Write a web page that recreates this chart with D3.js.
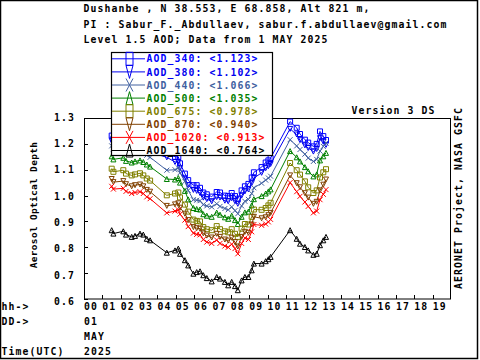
<!DOCTYPE html>
<html><head><meta charset="utf-8">
<script src="https://cdn.jsdelivr.net/npm/d3@7"></script>
<style>
body{margin:0;background:#fff}
svg{display:block}
text{font-family:"DejaVu Sans Mono",monospace;font-weight:bold;}
</style>
</head><body><svg id="c" width="480" height="360"></svg>
<script>
// ---- data ----
const hours = [1.51,1.60,2.14,2.29,2.60,2.78,3.05,3.23,3.42,3.60,
  4.51,4.96,5.14,5.23,5.50,5.68,5.96,6.14,6.32,6.50,
  6.69,6.96,7.23,7.41,7.68,7.86,8.05,8.23,8.38,8.59,
  8.77,8.96,9.14,9.26,9.68,9.90,10.05,10.17,11.23,11.59,
  11.77,12.04,12.22,12.50,12.68,12.86,13.04,13.19];
const aod340 = [1.232,1.220,1.226,1.214,1.206,1.210,1.214,1.206,1.196,1.188,
  1.168,1.150,1.150,1.125,1.085,1.060,1.040,1.040,1.030,1.012,
  1.005,0.996,1.014,1.012,1.000,0.998,1.010,0.998,0.988,1.020,
  1.036,1.045,1.070,1.090,1.110,1.128,1.136,1.145,1.286,1.262,
  1.238,1.216,1.205,1.190,1.200,1.248,1.230,1.215];
const aod380 = [1.212,1.200,1.205,1.194,1.186,1.190,1.194,1.186,1.176,1.168,
  1.148,1.130,1.130,1.106,1.066,1.040,1.022,1.018,1.010,0.992,
  0.986,0.978,0.994,0.992,0.980,0.978,0.990,0.978,0.968,1.000,
  1.016,1.024,1.048,1.068,1.088,1.106,1.114,1.122,1.258,1.236,
  1.214,1.194,1.184,1.170,1.180,1.222,1.208,1.196];
const aod440 = [1.192,1.180,1.186,1.174,1.166,1.170,1.174,1.166,1.156,1.148,
  1.098,1.100,1.107,1.088,1.055,1.020,0.984,0.982,0.980,0.965,
  0.960,0.956,0.968,0.958,0.950,0.945,0.956,0.942,0.930,0.960,
  0.978,0.985,1.008,1.030,1.048,1.060,1.068,1.075,1.216,1.192,
  1.178,1.160,1.145,1.132,1.140,1.172,1.190,1.203];
const aod500 = [1.152,1.140,1.146,1.134,1.128,1.132,1.136,1.130,1.120,1.112,
  1.064,1.062,1.068,1.050,1.018,0.985,0.952,0.948,0.946,0.928,
  0.922,0.918,0.934,0.926,0.916,0.910,0.922,0.905,0.890,0.918,
  0.935,0.938,0.962,0.986,0.998,1.008,1.016,1.024,1.172,1.148,
  1.132,1.110,1.094,1.074,1.082,1.136,1.152,1.165];
const aod675 = [1.104,1.092,1.098,1.085,1.078,1.082,1.086,1.078,1.066,1.058,
  1.001,1.008,1.012,0.993,0.965,0.938,0.907,0.902,0.900,0.878,
  0.870,0.866,0.882,0.870,0.862,0.858,0.870,0.852,0.840,0.872,
  0.890,0.888,0.918,0.946,0.945,0.952,0.962,0.972,1.126,1.098,
  1.081,1.055,1.032,1.010,1.020,1.070,1.090,1.102];
const aod870 = [1.064,1.052,1.056,1.044,1.036,1.040,1.043,1.036,1.022,1.015,
  0.960,0.966,0.970,0.953,0.930,0.905,0.878,0.874,0.872,0.854,
  0.845,0.838,0.852,0.840,0.830,0.826,0.837,0.820,0.803,0.840,
  0.860,0.856,0.888,0.918,0.912,0.916,0.924,0.933,1.078,1.048,
  1.032,1.009,0.992,0.968,0.976,1.020,1.042,1.062];
const aod1020 = [1.036,1.025,1.028,1.016,1.008,1.012,1.015,1.008,0.995,0.988,
  0.933,0.940,0.945,0.928,0.905,0.880,0.855,0.850,0.848,0.830,
  0.820,0.815,0.828,0.815,0.805,0.800,0.812,0.795,0.775,0.815,
  0.836,0.830,0.860,0.888,0.885,0.890,0.898,0.908,1.050,1.015,
  0.997,0.975,0.958,0.933,0.940,0.984,1.005,1.023];
const aod1640 = [0.866,0.853,0.862,0.849,0.840,0.844,0.853,0.849,0.833,0.827,
  0.779,0.788,0.795,0.775,0.750,0.730,0.698,0.704,0.707,0.692,
  0.681,0.668,0.685,0.679,0.666,0.653,0.666,0.650,0.634,0.672,
  0.685,0.685,0.711,0.737,0.737,0.746,0.754,0.763,0.866,0.833,
  0.814,0.801,0.788,0.771,0.775,0.808,0.827,0.840];
const seriesNames = ["AOD_340","AOD_380","AOD_440","AOD_500","AOD_675","AOD_870","AOD_1020","AOD_1640"];
const seriesMeans = ["1.123","1.102","1.066","1.035","0.978","0.940","0.913","0.764"];
const yTicks = [1.3,1.2,1.1,1.0,0.9,0.8,0.7,0.6];
const yTickLabels = ["1.3","1.2","1.1","1.0","0.9","0.8","0.7","0.6"];
const hourLabels = ["00","01","02","03","04","05","06","07","08","09","10","11","12","13","14","15","16","17","18","19"];
const headerLines = ["Dushanbe , N 38.553, E  68.858, Alt 821 m,",
  "PI : Sabur_F._Abdullaev, sabur.f.abdullaev@gmail.com",
  "Level 1.5 AOD; Data from 1 MAY 2025"];

// ---- styles ----
const seriesValues = [aod340,aod380,aod440,aod500,aod675,aod870,aod1020,aod1640];
const colors = ["#0000FF","#0000EE","#4060A0","#008000","#808000","#804000","#FF0000","#000000"];
const shapes = ["square","down","x","up","square","down","x","up"];

const svg = d3.select("#c");
const FS = "9.8px", LS = 1.1;
const txt = (x,y,s,opt={}) => {
  const t = svg.append("text").attr("x",x).attr("y",y).text(s)
    .attr("font-size",opt.fs||FS).attr("letter-spacing",opt.ls!==undefined?opt.ls:LS)
    .attr("fill",opt.fill||"#000");
  if(opt.anchor) t.attr("text-anchor",opt.anchor);
  if(opt.tr) t.attr("transform",opt.tr);
  return t;
};

// outer border
svg.append("rect").attr("x",0.5).attr("y",0.5).attr("width",477).attr("height",358)
  .attr("fill","none").attr("stroke","#000").attr("stroke-width",1.5);

// header
headerLines.forEach((s,i)=>txt(83.5,[12,27.5,43][i],s));
txt(351.5,113.5,"Version 3 DS");

const x = d3.scaleLinear().domain([0,20]).range([84,451]);
const y = d3.scaleLinear().domain([0.6,1.3]).range([299,118]);

// frame
svg.append("rect").attr("x",84.5).attr("y",118.5).attr("width",366).attr("height",180.5)
  .attr("fill","none").attr("stroke","#000").attr("stroke-width",1);

// y ticks inward
yTicks.forEach((v,i)=>{
  svg.append("line").attr("x1",84).attr("x2",88).attr("y1",Math.round(y(v))+0.5).attr("y2",Math.round(y(v))+0.5)
    .attr("stroke","#000");
  txt(75,y(v)+2.7+i*0.47,yTickLabels[i],{anchor:"end"});
});
// x ticks inward
hourLabels.forEach((s,i)=>{
  if(i>0) svg.append("line").attr("x1",Math.round(x(i))+0.5).attr("x2",Math.round(x(i))+0.5)
    .attr("y1",299).attr("y2",295).attr("stroke","#000");
  txt(x(i),310,s);
});
txt(1.5,310,"hh->"); txt(1.5,325,"DD->"); txt(84,325,"01");
txt(84,340,"MAY"); txt(1.5,355,"Time(UTC)"); txt(84,355,"2025");

// axis titles
txt(0,0,"Aerosol Optical Depth",{anchor:"middle",fs:"9.5px",ls:0.3,tr:"translate(37,205) rotate(-90)"});
txt(0,0,"AERONET Project, NASA GSFC",{tr:"translate(462,289) rotate(-90)"});

// marker paths
function marker(type,w,h){
  const a=w/2,b=h/2;
  if(type==="square") return `M${-a},${-b}H${a}V${b}H${-a}Z`;
  if(type==="up") return `M0,${-b}L${a},${b}L${-a},${b}Z`;
  if(type==="down") return `M0,${b}L${a},${-b}L${-a},${-b}Z`;
  return `M${-a},${-b}L${a},${b}M${a},${-b}L${-a},${b}`;
}

// series
const line = d3.line().x(d=>x(d[0])).y(d=>y(d[1]));
seriesValues.forEach((vals,k)=>{
  const pts = hours.map((h,i)=>[h,vals[i]]);
  const g = svg.append("g");
  g.append("path").attr("d",line(pts)).attr("fill","none").attr("stroke",colors[k]).attr("stroke-width",1);
  g.selectAll("path.m").data(pts).enter().append("path").attr("class","m")
    .attr("d",marker(shapes[k],5,5))
    .attr("transform",d=>`translate(${x(d[0]).toFixed(1)},${y(d[1]).toFixed(1)})`)
    .attr("fill","none").attr("stroke",colors[k]).attr("stroke-width",1);
});

// legend
svg.append("rect").attr("x",111.5).attr("y",52.5).attr("width",161).attr("height",103)
  .attr("fill","#fff").attr("stroke","#000").attr("stroke-width",1.2);
seriesNames.forEach((n,k)=>{
  const ry = 58.8 + k*13.1;
  svg.append("line").attr("x1",112).attr("x2",145).attr("y1",ry).attr("y2",ry).attr("stroke",colors[k]);
  svg.append("path").attr("d",marker(shapes[k],7,13)).attr("transform",`translate(129.5,${ry})`)
    .attr("fill","none").attr("stroke",colors[k]).attr("stroke-width",1);
  txt(146.5,ry+3.6,`${n}: <${seriesMeans[k]}>`,{fill:colors[k]});
});
</script>
</body></html>
